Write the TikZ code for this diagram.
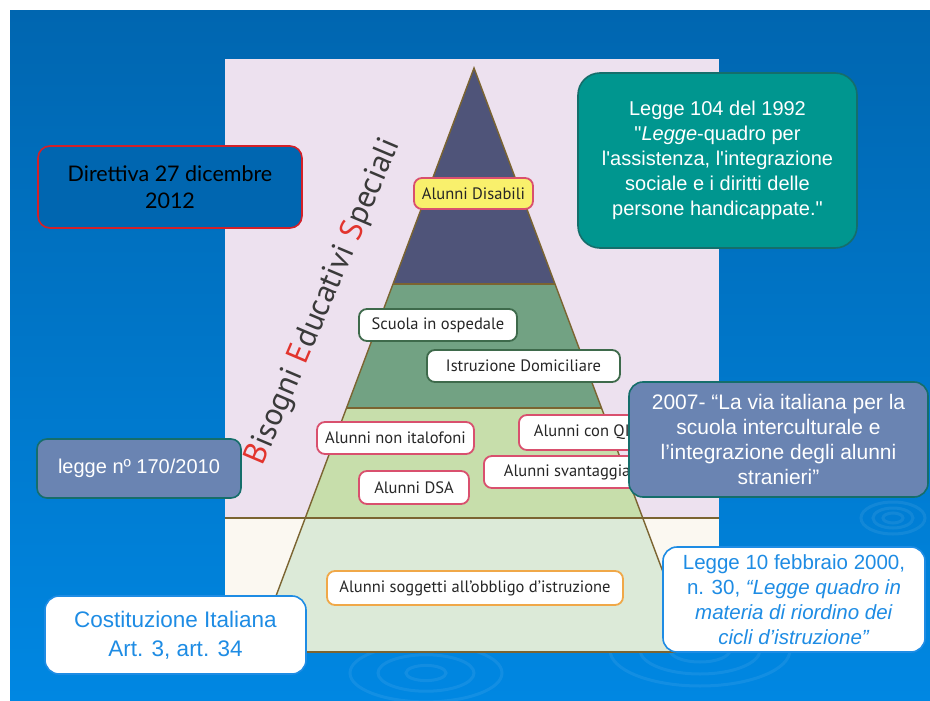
\documentclass[tikz,border=0pt]{standalone}
\usepackage{fontspec}
\setmainfont{Liberation Sans}
\newfontfamily\arialdritto{Liberation Sans}[Ligatures=TeXOff]
\newfontfamily\gillfont{Lato}
\newfontfamily\piramfont{PT Sans}
\usetikzlibrary{positioning}

\definecolor{sfondoA}{HTML}{0066B0}
\definecolor{sfondoB}{HTML}{0087E2}
\definecolor{lavanda}{HTML}{EDE1EF}
\definecolor{crema}{HTML}{FBF8F1}
\definecolor{fascia1}{HTML}{4F5479}
\definecolor{fascia2}{HTML}{72A283}
\definecolor{fascia3}{HTML}{C7DEAB}
\definecolor{fascia4}{HTML}{DCEAD8}
\definecolor{bordo}{HTML}{7B6431}
\definecolor{verdescuro}{HTML}{3E6A4B}
\definecolor{rosa}{HTML}{D9506E}
\definecolor{arancio}{HTML}{F0A848}
\definecolor{giallo}{HTML}{F9F06C}
\definecolor{ottanio}{HTML}{00968F}
\definecolor{ottaniobordo}{HTML}{156E6B}
\definecolor{ardesia}{HTML}{6A84B2}
\definecolor{azzurro}{HTML}{1E8CE4}
\definecolor{rosso}{HTML}{D42028}
\definecolor{titolorosso}{HTML}{E2342E}
\definecolor{titolo}{HTML}{3A3A3A}

\begin{document}
\begin{tikzpicture}[x=1pt,y=-1pt,
  box/.style={rounded corners=14pt, line width=1.6pt, align=center, inner sep=0pt},
  lbl/.style={rounded corners=8pt, draw, line width=1.8pt, fill=white, inner xsep=0pt,
    minimum height=32pt, text=black!85, font=\piramfont\fontsize{16.5}{19}\selectfont},
  ripple/.style={draw=white, line width=3pt, opacity=0.07},
  margine/.style={draw=bordo, line width=1.4pt}]
  \useasboundingbox (0,0) rectangle (930,701);
  % 背景
  \fill[white] (0,0) rectangle (930,701);
  \shade[top color=sfondoA, bottom color=sfondoB] (10,11) rectangle (930,701);
  % 水波
  \foreach \r in {10,20,32} \draw[ripple] (893,518) ellipse [x radius=\r, y radius=\r*0.5];
  \foreach \r in {20,48,76} \draw[ripple] (426,673) ellipse [x radius=\r, y radius=\r*0.38];
  \foreach \r in {30,60,90} \draw[ripple] (700,650) ellipse [x radius=\r, y radius=\r*0.4];
  % 图片底板
  \fill[lavanda] (225,59) rectangle (719,518);
  \fill[crema] (225,518) rectangle (719,653);
  % 金字塔
  \fill[fascia1] (474,68) -- (555,284) -- (393,284) -- cycle;
  \fill[fascia2] (393,284) -- (555,284) -- (601.5,408) -- (346.5,408) -- cycle;
  \fill[fascia3] (346.5,408) -- (601.5,408) -- (642.75,518) -- (305.25,518) -- cycle;
  \fill[fascia4] (305.25,518) -- (642.75,518) -- (693,652) -- (255,652) -- cycle;
  \draw[margine] (255,652) -- (474,68) -- (693,652);
  \draw[margine] (393,284) -- (555,284);
  \draw[margine] (346.5,408) -- (601.5,408);
  \draw[margine] (225,518) -- (719,518);
  \draw[margine] (225,652) -- (719,652);
  % 层内标签
  \node[lbl, draw=rosa, fill=giallo, minimum width=119pt, minimum height=31pt] (disabili) at (473.5,193.5) {Alunni Disabili};
  \node[lbl, draw=verdescuro, minimum width=158pt] (ospedale) at (438,325) {Scuola in ospedale};
  \node[lbl, draw=verdescuro, minimum width=193pt] (domicilio) at (523.5,366) {Istruzione Domiciliare};
  \node[lbl, draw=rosa, minimum width=157pt] (italofoni) at (395.5,438) {Alunni non italofoni};
  \node[lbl, draw=rosa, minimum width=110pt, minimum height=33pt] (dsa) at (414,487.5) {Alunni DSA};
  \node[lbl, draw=rosa, anchor=west, inner xsep=15pt, minimum height=35pt] (qi) at (518,432.5) {Alunni con QI};
  \node[lbl, draw=rosa, anchor=west, inner xsep=20pt] (svantaggiati) at (483,472) {Alunni svantaggiati};
  \node[lbl, draw=arancio, minimum width=296pt, minimum height=34pt] (obbligo) at (475,588) {Alunni soggetti all’obbligo d’istruzione};
  % 斜标题
  \node[rotate=67, text=titolo, font=\piramfont\fontsize{32}{32}\selectfont] (bes) at (324,302)
    {\textcolor{titolorosso}{B}isogni \textcolor{titolorosso}{E}ducativi \textcolor{titolorosso}{S}peciali};
  % 法规框
  \node[box, fill=sfondoA, draw=rosso, rounded corners=12pt, minimum width=264pt, minimum height=82pt,
    text=black, font=\gillfont\fontsize{21.5}{27}\selectfont] (direttiva) at (170,187) {Direttiva 27 dicembre\\2012};
  \node[box, fill=ottanio, draw=ottaniobordo, rounded corners=22pt, minimum width=279pt, minimum height=175pt,
    text=white, font=\arialdritto\fontsize{20}{25}\selectfont] (legge104) at (717.5,160.5)
    {Legge 104 del 1992\\"\textit{Legge}-quadro per\\l'assistenza, l'integrazione\\sociale e i diritti delle\\persone handicappate."};
  \node[box, fill=ardesia, draw=ottaniobordo, rounded corners=10pt, minimum width=204pt, minimum height=59pt,
    text=white, font=\fontsize{20}{24}\selectfont] (legge170) at (139,468.5) {legge nº 170/2010};
  \node[box, fill=ardesia, draw=ottaniobordo, minimum width=299pt, minimum height=115pt,
    text=white, font=\fontsize{21}{25}\selectfont] (legge2007) at (778.5,439.5)
    {2007- “La via italiana per la\\scuola interculturale e\\l’integrazione degli alunni\\stranieri”};
  \node[box, fill=white, draw=azzurro, minimum width=262pt, minimum height=105pt,
    text=azzurro, font=\fontsize{20.5}{25}\selectfont] (legge2000) at (794,599.5)
    {Legge 10 febbraio 2000,\\n. 30, \textit{“Legge quadro in}\\\textit{materia di riordino dei}\\\textit{cicli d’istruzione”}};
  \node[box, fill=white, draw=azzurro, minimum width=261pt, minimum height=78pt,
    text=azzurro, font=\fontsize{22.5}{29}\selectfont] (costituzione) at (175.5,635)
    {Costituzione Italiana\\Art. 3, art. 34};
\end{tikzpicture}
\end{document}
